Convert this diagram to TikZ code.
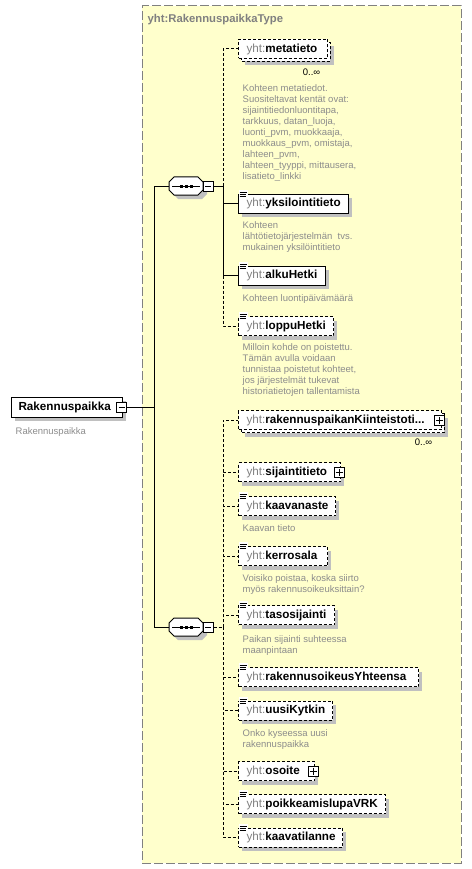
\documentclass[tikz,border=0pt]{standalone}
\usepackage{fontspec}
\setmainfont{Liberation Sans}
\definecolor{bgy}{HTML}{FFFFCC}
\definecolor{framec}{HTML}{808080}
\definecolor{shadowc}{HTML}{C0C0C0}
\definecolor{descc}{HTML}{8C8C8C}
\definecolor{prefixc}{HTML}{808080}
\newcommand{\NameFont}{\fontsize{11.7}{13}\selectfont\bfseries}
\newcommand{\DescFont}{\fontsize{9.5}{11}\selectfont}
\newcommand{\Pfx}{{\color{prefixc}\mdseries yht:}}
\tikzset{
  elbox/.style={draw=black, fill=white, line width=1pt, anchor=west, minimum height=19, inner xsep=8pt, inner ysep=0pt, align=left, font=\NameFont},
  optbox/.style={elbox, dash pattern=on 3pt off 2pt},
  conn/.style={line width=1pt},
  optconn/.style={line width=1pt, dash pattern=on 3pt off 2pt},
  desc/.style={anchor=north west, inner sep=0pt, align=left, font=\DescFont, text=descc},
  pmbox/.style={draw=black, fill=white, line width=1pt, minimum size=10, inner sep=0pt},
  seqnode/.style={minimum width=34, minimum height=18, inner sep=0pt},
  card/.style={inner sep=0pt, font=\DescFont, text=black},
}
% #1 name, #2 centre y, #3 width, #4 style, #5 text
\newcommand{\Elem}[5]{%
  \fill[shadowc] (242,{#2-5.5}) rectangle ({242+#3},{#2+13.5});
  \pgfmathsetmacro{\tw}{#3-16}%
  \node[#4, minimum width=#3, text width=\tw pt] (#1) at (238,#2) {\Pfx#5};
}
\newcommand{\MultiElem}[5]{%
  \fill[shadowc] (245,{#2-2.5}) rectangle ({245+#3},{#2+16.5});
  \draw[fill=white, line width=1pt, dash pattern=on 3pt off 2pt] (241,{#2-6.5}) rectangle ({241+#3},{#2+12.5});
  \pgfmathsetmacro{\tw}{#3-16}%
  \node[#4, minimum width=#3, text width=\tw pt] (#1) at (238,#2) {\Pfx#5};
}
\newcommand{\Icon}[1]{%
  \fill[white] ([shift={(1,2)}]#1.north west) rectangle ([shift={(9.5,-4)}]#1.north west);
  \draw[line width=0.8pt] ([shift={(1.5,-1.5)}]#1.north west) -- ++(7.5,0);
  \draw[line width=0.8pt] ([shift={(1.5,0.5)}]#1.north west) -- ++(6,0);
  \draw[line width=0.8pt] ([shift={(1.5,2.5)}]#1.north west) -- ++(6,0);
}
\newcommand{\PlusBox}[2]{%
  \node[pmbox] (#1) at (#2) {};
  \draw[line width=1pt] (#1.center) +(-3.5,0) -- +(3.5,0);
  \draw[line width=1pt] (#1.center) +(0,-3.5) -- +(0,3.5);
}
\newcommand{\MinusBox}[2]{%
  \node[pmbox] (#1) at (#2) {};
  \draw[line width=1pt] (#1.center) +(-3,0) -- +(3,0);
}
\newcommand{\SeqSym}[3]{%
  \fill[shadowc, shift={({#2+4},{#3+4})}] (-12,-9) -- (12,-9) -- (17,-4) -- (17,4) -- (12,9) -- (-12,9) -- (-17,4) -- (-17,-4) -- cycle;
  \node[seqnode] (#1) at (#2,#3) {};
  \draw[fill=white, line width=1pt, shift={(#2,#3)}] (-12,-9) -- (12,-9) -- (17,-4) -- (17,4) -- (12,9) -- (-12,9) -- (-17,4) -- (-17,-4) -- cycle;
  \draw[line width=1pt, shift={(#2,#3)}] (-14,0) -- (14,0);
  \foreach \dx in {-5,0,5} {\fill[shift={(#2,#3)}] ({\dx-1.5},-1.5) rectangle ({\dx+1.5},1.5);}
  \MinusBox{#1m}{{#2+22},#3}
}
\begin{document}
\begin{tikzpicture}[x=1pt,y=-1pt]
\useasboundingbox (0,0) rectangle (471,869);
% container
\node[draw=framec, fill=bgy, line width=1pt, dash pattern=on 9pt off 3pt, minimum width=319, minimum height=857, inner sep=0pt, anchor=north west] (ctype) at (141.5,5.5) {};
\node[anchor=base west, inner sep=0pt, font=\fontsize{11.3}{13}\selectfont\bfseries, text=prefixc] (title) at (147.5,23) {yht:RakennuspaikkaType};

% root
\fill[shadowc] (15,401) rectangle (126,421);
\node[elbox, minimum width=111, minimum height=20, inner xsep=7pt, text width=97pt] (root) at (11,407) {Rakennuspaikka};
\MinusBox{rootm}{121.5,407.5}
\node[desc] (rootd) at (15.5,427.3) {Rakennuspaikka};

% sequences
\SeqSym{s1}{186}{186}
\SeqSym{s2}{186}{627}
\coordinate (b0) at (154,407.5);
\coordinate (j1) at (154,186);
\coordinate (j2) at (154,627);
\draw[conn] (rootm.east) -- (b0);
\draw[conn] (s1.west) -- (j1) -- (j2) -- (s2.west);

% sequence 1 children
\MultiElem{meta}{49}{89}{optbox}{metatieto}
\node[card] (meta c) at (311.5,72) {0..∞};
\node[desc] (meta d) at (242.5,84.8) {Kohteen metatiedot.\\Suositeltavat kentät ovat:\\sijaintitiedonluontitapa,\\tarkkuus, datan\_luoja,\\luonti\_pvm, muokkaaja,\\muokkaus\_pvm, omistaja,\\lahteen\_pvm,\\lahteen\_tyyppi, mittausera,\\lisatieto\_linkki};

\Elem{yksi}{203.7}{110}{elbox}{yksilointitieto}
\Icon{yksi}
\node[desc] (yksi d) at (242.5,221.5) {Kohteen\\lähtötietojärjestelmän~ tvs.\\mukainen yksilöintitieto};

\Elem{alku}{275.5}{87}{elbox}{alkuHetki}
\Icon{alku}
\node[desc] (alku d) at (242.5,294.2) {Kohteen luontipäivämäärä};

\Elem{loppu}{326}{95}{optbox}{loppuHetki}
\Icon{loppu}
\node[desc] (loppu d) at (242.5,343.2) {Milloin kohde on poistettu.\\Tämän avulla voidaan\\tunnistaa poistetut kohteet,\\jos järjestelmät tukevat\\historiatietojen tallentamista};

\coordinate (k1) at (223,186);
\draw[conn] (s1m.east) -- (k1);
\draw[optconn] (k1) |- (meta.west);
\draw[conn] (k1) |- (yksi.west);
\draw[conn] (k1) |- (alku.west);
\draw[optconn] (k1 |- alku.west) |- (loppu.west);

% sequence 2 children
\MultiElem{rak}{420}{203}{optbox}{rakennuspaikanKiinteistoti...}
\PlusBox{rakp}{439.5,420.5}
\node[card] (rak c) at (423.5,442.7) {0..∞};

\Elem{sij}{472}{102}{optbox}{sijaintitieto}
\PlusBox{sijp}{339,472.5}

\Elem{kaav}{506}{97}{optbox}{kaavanaste}
\Icon{kaav}
\node[desc] (kaav d) at (242.5,524.2) {Kaavan tieto};

\Elem{kerr}{556}{89}{optbox}{kerrosala}
\Icon{kerr}
\node[desc] (kerr d) at (242.5,574.2) {Voisiko poistaa, koska siirto\\myös rakennusoikeuksittain?};

\Elem{taso}{615.3}{96}{optbox}{tasosijainti}
\Icon{taso}
\node[desc] (taso d) at (242.5,635.5) {Paikan sijainti suhteessa\\maanpintaan};

\Elem{rakoik}{677}{180}{optbox}{rakennusoikeusYhteensa}
\Icon{rakoik}

\Elem{uusi}{710.5}{94}{optbox}{uusiKytkin}
\Icon{uusi}
\node[desc] (uusi d) at (242.5,729.2) {Onko kyseessa uusi\\rakennuspaikka};

\Elem{osoite}{771.3}{76}{optbox}{osoite}
\PlusBox{osoitep}{313.5,771}

\Elem{poik}{804.3}{147}{optbox}{poikkeamislupaVRK}
\Icon{poik}

\Elem{kaavat}{837.5}{104}{optbox}{kaavatilanne}
\Icon{kaavat}

\coordinate (k2) at (223,627);
\draw[optconn] (s2m.east) -- (k2);
\foreach \n in {rak,sij,kaav,kerr,taso,rakoik,uusi,osoite,poik,kaavat} {
  \draw[optconn] (k2) |- (\n.west);
}
\end{tikzpicture}
\end{document}
